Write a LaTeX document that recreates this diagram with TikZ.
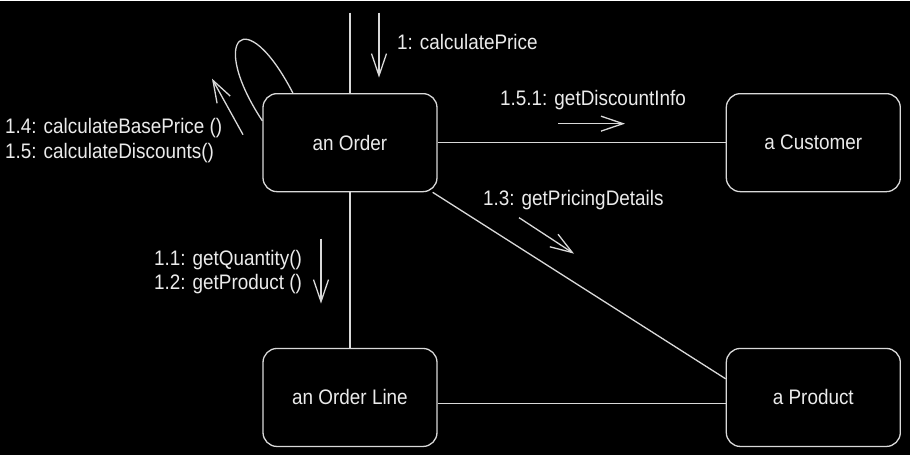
\documentclass[tikz,border=0pt]{standalone}
\usepackage{fontspec}
\setmainfont{Liberation Sans}[FakeStretch=0.9]
\usetikzlibrary{positioning,arrows.meta}
\definecolor{linec}{gray}{0.85}
\definecolor{txtc}{gray}{0.92}

\begin{document}
\begin{tikzpicture}[
  x=1pt,y=-1pt,
  box/.style={rectangle,draw=linec,rounded corners=14pt,line width=1.3pt,minimum width=174pt,minimum height=98pt,text=txtc,font=\fontsize{21}{25}\selectfont},
  msg/.style={anchor=base west,inner sep=0pt,text=txtc,font=\fontsize{21}{25}\selectfont},
  link/.style={draw=linec,line width=1.3pt},
  call/.style={draw=linec,line width=1.3pt,-{Straight Barb[length=22pt,width=15pt]}},
  node distance=155.5pt and 288pt
]
  \fill[black] (0,0) rectangle (910,454);

  % objects
  \node [box] (order) at (350,142) {an Order};
  \node [box,right=of order] (customer) {a Customer};
  \node [box,below=of order] (orderline) {an Order Line};
  \node [box,right=of orderline] (product) {a Product};

  % links
  \coordinate (entry) at (350,12);
  \draw [link] (entry) -- (order.north);
  \draw [link] (order) -- (customer);
  \draw [link] (order) -- (orderline);
  \draw [link] (order.-31) -- (product.168);
  \draw [link] ([yshift=-6pt]orderline.east) -- ([yshift=-6pt]product.west);
  \draw [link] (order.166) .. controls (208,38) and (245,0) .. (order.139);

  % messages
  \coordinate (c1a) at (379,12);
  \coordinate (c1b) at (379,77);
  \draw [call] (c1a) -- (c1b);
  \node [msg] (m1) at (397,49) {1: calculatePrice};

  \coordinate (c14a) at (243,134);
  \coordinate (c14b) at (212,78);
  \draw [call] (c14a) -- (c14b);
  \node [msg] (m14) at (5,133) {1.4: calculateBasePrice ()};
  \node [msg] (m15) at (5,158) {1.5: calculateDiscounts()};

  \coordinate (c151a) at (558,123);
  \coordinate (c151b) at (625,123);
  \draw [call] (c151a) -- (c151b);
  \node [msg] (m151) at (500,105) {1.5.1: getDiscountInfo};

  \coordinate (c13a) at (519,217);
  \coordinate (c13b) at (574,253);
  \draw [call] (c13a) -- (c13b);
  \node [msg] (m13) at (483,205) {1.3: getPricingDetails};

  \coordinate (c11a) at (321,238);
  \coordinate (c11b) at (321,303);
  \draw [call] (c11a) -- (c11b);
  \node [msg] (m11) at (154,265) {1.1: getQuantity()};
  \node [msg] (m12) at (154,289) {1.2: getProduct ()};
\end{tikzpicture}
\end{document}
